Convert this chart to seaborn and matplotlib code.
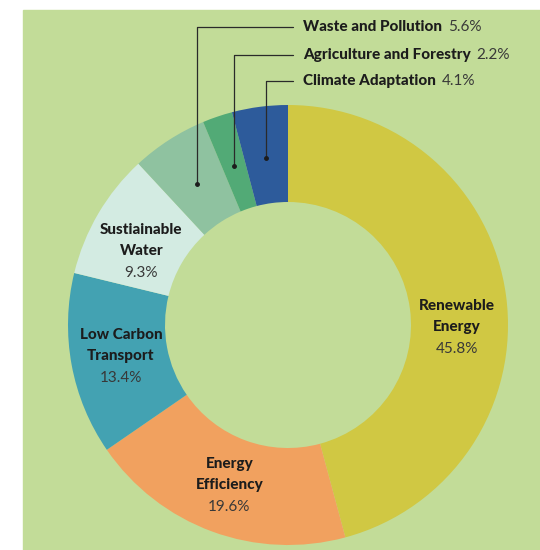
import numpy as np
import matplotlib
matplotlib.use("Agg")
import matplotlib.pyplot as plt
import seaborn as sns
from matplotlib.patches import Rectangle

# ========= DATA ==========
categories = ["Renewable Energy", "Energy Efficiency", "Low Carbon Transport",
              "Sustainable Water", "Waste and Pollution",
              "Agriculture and Forestry", "Climate Adaptation"]
label_lines = [["Renewable", "Energy"], ["Energy", "Efficiency"],
               ["Low Carbon", "Transport"], ["Sustiainable", "Water"],
               None, None, None]
shares = [45.8, 19.6, 13.4, 9.3, 5.6, 2.2, 4.1]
colors = ["#d0c843", "#f1a15f", "#43a2b2", "#d3ebe2", "#8fc2a0", "#52aa76", "#2d5b9b"]

BG = "#c2dc98"
sns.set_theme(style="white")
plt.rcParams["font.family"] = ["Lato", "DejaVu Sans"]

fig = plt.figure(figsize=(5.4, 5.5), dpi=100)
ax = fig.add_axes([0, 0, 1, 1])
ax.add_patch(Rectangle((23, 0), 540 - 23, 540, color=BG, zorder=0))

CX, CY, R, W = 288, 225, 220, 97
pal = sns.color_palette(colors)
wedges, _ = ax.pie(shares, colors=pal, startangle=90, counterclock=False,
                   center=(CX, CY), radius=R, frame=True,
                   wedgeprops=dict(width=W, linewidth=0))
ax.set_xlim(0, 540)
ax.set_ylim(0, 550)
ax.set_aspect("equal")
ax.axis("off")

# ========= Labels ==========
fs = 11
BOLD = "black"
cum = np.cumsum([0] + shares[:-1])
mids = [90 - (c + s / 2) * 3.6 for c, s in zip(cum, shares)]
for i, lines in enumerate(label_lines):
    if lines is None:
        continue
    a = np.deg2rad(mids[i])
    x, y = CX + 170 * np.cos(a), CY + 170 * np.sin(a)
    if i == 0:
        y = CY - 2
    if i == 3:
        y -= 12
    ax.text(x, y + 21, lines[0], ha="center", va="center", fontsize=fs,
            fontweight=BOLD, color="#1c1c1c")
    ax.text(x, y, lines[1], ha="center", va="center", fontsize=fs,
            fontweight=BOLD, color="#1c1c1c")
    ax.text(x, y - 22, f"{shares[i]}%", ha="center", va="center", fontsize=fs,
            color="#383838")

# leader lines for the small slices
text_y = [550 - 27, 550 - 55, 550 - 81]
fig.canvas.draw()
renderer = fig.canvas.get_renderer()
for k, i in enumerate([4, 5, 6]):
    a = np.deg2rad(mids[i])
    dx, dy = CX + 168 * np.cos(a), CY + 168 * np.sin(a)
    ty = text_y[k]
    ax.plot([dx, dx, 293], [dy, ty, ty], color="#2a2a2a", lw=0.9, zorder=5)
    ax.plot(dx, dy, "o", color="#1c1c1c", ms=2.5, zorder=6)
    t = ax.text(303, ty, categories[i], ha="left", va="center", fontsize=fs,
                fontweight=BOLD, color="#1c1c1c")
    bb = t.get_window_extent(renderer).transformed(ax.transData.inverted())
    ax.text(bb.x1 + 6, ty, f"{shares[i]}%", ha="left", va="center",
            fontsize=fs, color="#383838")

fig.savefig("out.png", dpi=100, facecolor="white")
